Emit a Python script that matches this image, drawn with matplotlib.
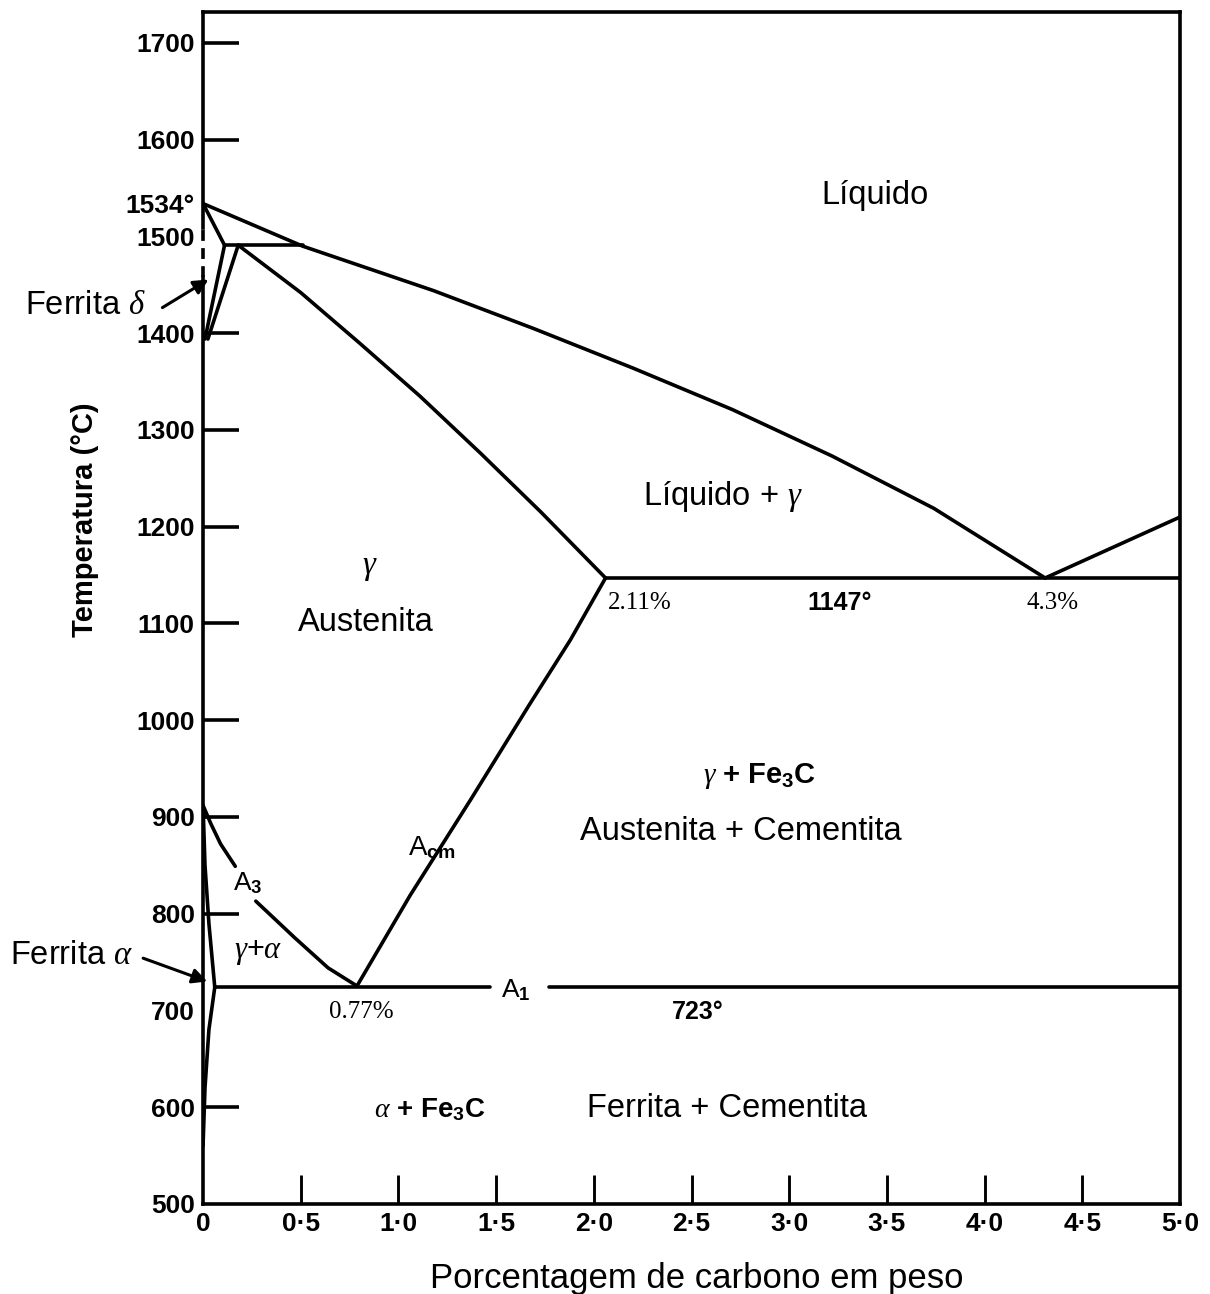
import matplotlib
matplotlib.use("Agg")
import matplotlib.pyplot as plt

# Fe-C diagram, boundaries (wt% C, deg C)
liquidus_x = [0.0, 0.51, 1.18, 1.69, 2.20, 2.71, 3.22, 3.74, 4.31]
liquidus_t = [1534, 1490, 1444, 1405, 1364, 1321, 1273, 1219, 1147]
liquidus_hyper_x = [4.31, 5.0]
liquidus_hyper_t = [1147, 1210]

solidus_x = [0.18, 0.50, 0.80, 1.11, 1.42, 1.73, 2.06]
solidus_t = [1491, 1442, 1390, 1335, 1276, 1215, 1147]

eutectic_x = [2.06, 5.0]
eutectic_t = [1147, 1147]

peritectic_x = [0.11, 0.51]
peritectic_t = [1491, 1491]

delta_solidus_x = [0.0, 0.11]
delta_solidus_t = [1534, 1491]
delta_left_x = [0.11, 0.01]
delta_left_t = [1491, 1394]
delta_right_x = [0.18, 0.025]
delta_right_t = [1491, 1394]

acm_x = [0.79, 1.06, 1.37, 1.67, 1.88, 2.06]
acm_t = [726, 819, 918, 1016, 1083, 1147]

a3_upper_x = [0.0, 0.04, 0.09, 0.165]
a3_upper_t = [912, 893, 872, 849]
a3_lower_x = [0.27, 0.47, 0.64, 0.79]
a3_lower_t = [813, 775, 744, 725]

alpha_x = [0.0, 0.01, 0.03, 0.06]
alpha_t = [912, 850, 790, 724]
solvus_x = [0.06, 0.03, 0.01, 0.0]
solvus_t = [724, 680, 620, 560]

a1_left_x = [0.06, 1.47]
a1_right_x = [1.77, 5.0]
a1_t = 724

# left border: solid, dashed through the delta region, solid again
left_low = [500, 1458]
left_dash = [1458, 1509]
left_high = [1509, 1732]

y_ticks = [500, 600, 700, 800, 900, 1000, 1100, 1200, 1300, 1400, 1500, 1534, 1600, 1700]
y_labels = ["500", "600", "700", "800", "900", "1000", "1100", "1200", "1300",
            "1400", "1500", "1534°", "1600", "1700"]
y_hidden_marks = [500, 700, 1500, 1534]
x_ticks = [0, 0.5, 1.0, 1.5, 2.0, 2.5, 3.0, 3.5, 4.0, 4.5, 5.0]
x_labels = ["0", "0·5", "1·0", "1·5", "2·0", "2·5", "3·0", "3·5", "4·0", "4·5", "5·0"]

plt.rcParams.update({
    "font.family": ["Liberation Sans", "DejaVu Sans"],
    "mathtext.fontset": "custom",
    "mathtext.rm": "Liberation Sans:bold",
    "mathtext.it": "Liberation Serif:italic",
    "mathtext.bf": "Liberation Sans:bold",
})

LW = 2.6
fig = plt.figure(figsize=(12.1, 12.94), dpi=100)
ax = fig.add_axes([0.1678, 0.0696, 0.8074, 0.9211])
ax.set_xlim(0, 5.0)
ax.set_ylim(500, 1732)

line_kw = dict(color="black", lw=LW, solid_capstyle="round", solid_joinstyle="round")
for xs, ts in [
    (liquidus_x, liquidus_t), (liquidus_hyper_x, liquidus_hyper_t),
    (solidus_x, solidus_t), (eutectic_x, eutectic_t), (peritectic_x, peritectic_t),
    (delta_solidus_x, delta_solidus_t), (delta_left_x, delta_left_t),
    (delta_right_x, delta_right_t), (acm_x, acm_t),
    (a3_upper_x, a3_upper_t), (a3_lower_x, a3_lower_t),
    (alpha_x, alpha_t), (solvus_x, solvus_t),
    (a1_left_x, [a1_t, a1_t]), (a1_right_x, [a1_t, a1_t]),
]:
    ax.plot(xs, ts, **line_kw)

ax.spines["left"].set_visible(False)
for s in ("top", "right", "bottom"):
    ax.spines[s].set_linewidth(LW)
ax.plot([0, 0], left_low, color="black", lw=LW, clip_on=False)
ax.plot([0, 0], left_high, color="black", lw=LW, clip_on=False)
ax.plot([0, 0], left_dash, color="black", lw=LW, ls=(0, (3, 2)), clip_on=False)

ax.set_yticks(y_ticks)
ax.set_yticklabels(y_labels, fontsize=19, fontweight="bold")
ax.set_xticks(x_ticks)
ax.set_xticklabels(x_labels, fontsize=19, fontweight="bold")
ax.tick_params(axis="y", direction="in", length=26, width=LW, pad=6)
ax.tick_params(axis="x", direction="in", length=21, width=LW * 0.8, pad=6)
for t in ax.yaxis.get_major_ticks():
    if t.get_loc() in y_hidden_marks:
        t.tick1line.set_visible(False)
for t in ax.xaxis.get_major_ticks():
    if t.get_loc() in (0, 5.0):
        t.tick1line.set_visible(False)

ax.set_ylabel("Temperatura (°C)", fontsize=21, fontweight="bold")
ax.yaxis.set_label_coords(-0.106, 0.574)
ax.set_xlabel("Porcentagem de carbono em peso", fontsize=25)
ax.xaxis.set_label_coords(0.5056, -0.049)

REG = 23.5
ax.text(3.44, 1542, "Líquido", fontsize=REG, ha="center", va="center")
ax.text(2.66, 1231, r"Líquido + $\gamma$", fontsize=REG, ha="center", va="center")
ax.text(0.855, 1158, r"$\gamma$", fontsize=REG, ha="center", va="center")
ax.text(0.834, 1101, "Austenita", fontsize=REG, ha="center", va="center")
ax.text(2.07, 1121, "2.11%", fontsize=18, ha="left", va="center", family="Liberation Serif")
ax.text(3.26, 1121, "1147°", fontsize=18, ha="center", va="center", fontweight="bold")
ax.text(4.35, 1121, "4.3%", fontsize=18, ha="center", va="center", family="Liberation Serif")
ax.text(2.85, 942, r"$\gamma$ + Fe$_3$C", fontsize=21, ha="center", va="center", fontweight="bold")
ax.text(2.75, 885, "Austenita + Cementita", fontsize=REG, ha="center", va="center")
ax.text(1.17, 868, r"A$_{\rm cm}$", fontsize=20, ha="center", va="center")
ax.text(0.23, 832, r"A$_3$", fontsize=19, ha="center", va="center")
ax.text(0.28, 760, r"$\gamma$+$\alpha$", fontsize=22, ha="center", va="center")
ax.text(0.81, 698, "0.77%", fontsize=18, ha="center", va="center", family="Liberation Serif")
ax.text(1.6, 721, r"A$_1$", fontsize=19, ha="center", va="center")
ax.text(2.53, 698, "723°", fontsize=18, ha="center", va="center", fontweight="bold")
ax.text(1.16, 597, r"$\alpha$ + Fe$_3$C", fontsize=20, ha="center", va="center", fontweight="bold")
ax.text(2.68, 599, "Ferrita + Cementita", fontsize=REG, ha="center", va="center")

ax.text(-0.911, 1429, r"Ferrita $\delta$", fontsize=REG, ha="left", va="center", clip_on=False)
ax.annotate("", xy=(0.04, 1457), xytext=(-0.22, 1425), annotation_clip=False,
            arrowprops=dict(arrowstyle="-|>", color="black", lw=2.2, mutation_scale=22))
ax.text(-0.988, 757, r"Ferrita $\alpha$", fontsize=REG, ha="left", va="center", clip_on=False)
ax.annotate("", xy=(0.035, 729), xytext=(-0.32, 755), annotation_clip=False,
            arrowprops=dict(arrowstyle="-|>", color="black", lw=2.2, mutation_scale=22))

fig.savefig("out.png", dpi=100, facecolor="white")
